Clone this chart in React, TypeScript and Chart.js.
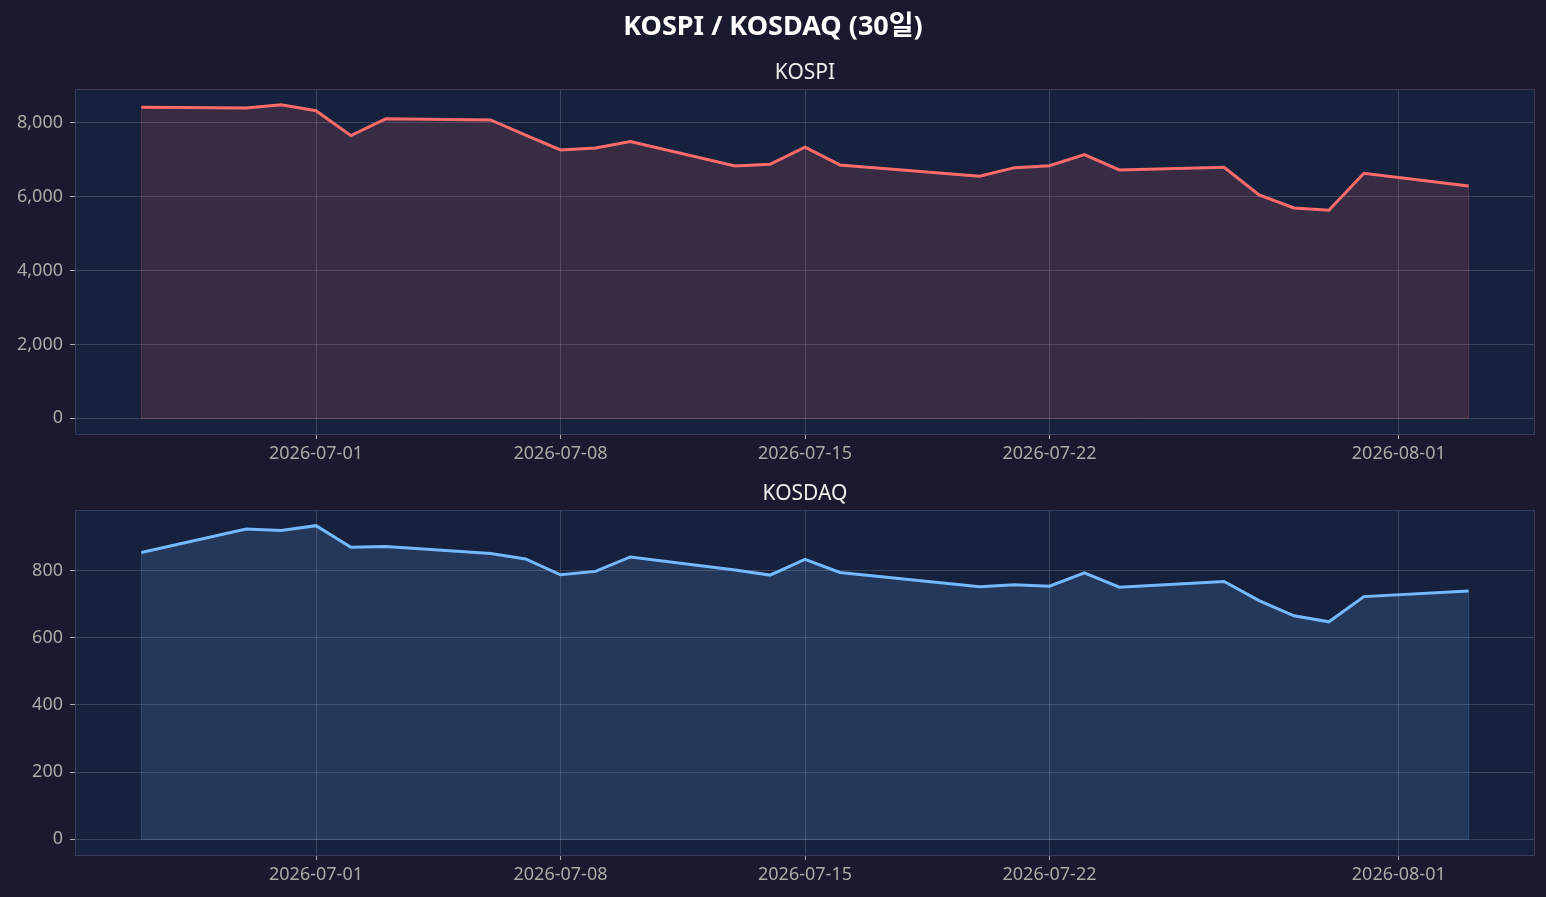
import React, { useEffect, useRef } from "react";
import { Chart, registerables } from "chart.js";

Chart.register(...registerables);

// ---------- data ----------
const dates = [
  "2026-06-26", "2026-06-29", "2026-06-30", "2026-07-01", "2026-07-02", "2026-07-03",
  "2026-07-06", "2026-07-07", "2026-07-08", "2026-07-09", "2026-07-10",
  "2026-07-13", "2026-07-14", "2026-07-15", "2026-07-16",
  "2026-07-20", "2026-07-21", "2026-07-22", "2026-07-23", "2026-07-24",
  "2026-07-27", "2026-07-28", "2026-07-29", "2026-07-30", "2026-07-31",
  "2026-08-03",
];
const kospi = [
  8414, 8397, 8486, 8324, 7649, 8108,
  8072, 7665, 7262, 7316, 7486,
  6830, 6874, 7334, 6855,
  6549, 6782, 6836, 7134, 6720,
  6793, 6043, 5691, 5629, 6631,
  6287,
];
const kosdaq = [
  853, 923, 919, 933, 869, 871,
  850, 834, 787, 797, 840,
  801, 786, 833, 794,
  751, 757, 753, 793, 750,
  767, 710, 665, 647, 722,
  739,
];
const xTickDates = ["2026-07-01", "2026-07-08", "2026-07-15", "2026-07-22", "2026-08-01"];
const kospiTicks = [0, 2000, 4000, 6000, 8000];
const kosdaqTicks = [0, 200, 400, 600, 800];

const mainTitle = "KOSPI / KOSDAQ (30일)";
const kospiTitle = "KOSPI";
const kosdaqTitle = "KOSDAQ";

// ---------- style ----------
const FIG_BG = "#1a1a2e";
const AX_BG = "#16213e";
const SPINE = "#3a3a5c";
const GRID = "rgba(255,255,255,0.16)";
const TICK_LABEL = "#aaaaaa";
const TICK_MARK = "#aaaaaa";
const FONT = "'Noto Sans', 'Noto Sans CJK KR', sans-serif";

const DAY = 86400000;
const dayNum = (s: string) => {
  const [y, m, d] = s.split("-").map(Number);
  return Date.UTC(y, m - 1, d) / DAY;
};
const fmtDay = (v: number) => {
  const dt = new Date(Math.round(v) * DAY);
  const y = dt.getUTCFullYear();
  const m = String(dt.getUTCMonth() + 1).padStart(2, "0");
  const d = String(dt.getUTCDate()).padStart(2, "0");
  return `${y}-${m}-${d}`;
};

const framePlugin = {
  id: "frame",
  beforeDraw(chart: any) {
    const { ctx, chartArea } = chart;
    const { left, top, right, bottom } = chartArea;
    ctx.save();
    ctx.fillStyle = AX_BG;
    ctx.fillRect(left, top, right - left, bottom - top);
    ctx.restore();
  },
  afterDatasetsDraw(chart: any) {
    // faint edge of the filled region (left, bottom, right)
    const ds = chart.data.datasets[0];
    const xs = chart.scales.x;
    const ys = chart.scales.y;
    const pts = ds.data as { x: number; y: number }[];
    const first = pts[0];
    const last = pts[pts.length - 1];
    const { ctx } = chart;
    ctx.save();
    ctx.strokeStyle = ds.edgeColor;
    ctx.lineWidth = 1;
    ctx.beginPath();
    ctx.moveTo(xs.getPixelForValue(first.x), ys.getPixelForValue(first.y));
    ctx.lineTo(xs.getPixelForValue(first.x), ys.getPixelForValue(0));
    ctx.lineTo(xs.getPixelForValue(last.x), ys.getPixelForValue(0));
    ctx.lineTo(xs.getPixelForValue(last.x), ys.getPixelForValue(last.y));
    ctx.stroke();
    ctx.restore();
  },
  afterDraw(chart: any) {
    const { ctx, chartArea } = chart;
    const { left, top, right, bottom } = chartArea;
    ctx.save();
    ctx.strokeStyle = SPINE;
    ctx.lineWidth = 1;
    ctx.strokeRect(Math.round(left) + 0.5, Math.round(top) + 0.5, Math.round(right - left) - 1, Math.round(bottom - top));
    ctx.restore();
  },
};

type PanelProps = {
  values: number[];
  ticks: number[];
  color: string;
  fill: string;
  edge: string;
  padTop: number;
  xAxisHeight: number;
  height: number;
};

function Panel({ values, ticks, color, fill, edge, padTop, xAxisHeight, height }: PanelProps) {
  const ref = useRef<HTMLCanvasElement | null>(null);
  useEffect(() => {
    if (!ref.current) return;
    const xVals = dates.map(dayNum);
    const xMinD = Math.min(...xVals);
    const xMaxD = Math.max(...xVals);
    const xm = (xMaxD - xMinD) * 0.05;
    const vMax = Math.max(...values);
    const ym = vMax * 0.05;
    const chart = new Chart(ref.current, {
      type: "line",
      data: {
        datasets: [
          {
            data: xVals.map((x, i) => ({ x, y: values[i] })),
            borderColor: color,
            backgroundColor: fill,
            borderWidth: 3,
            pointRadius: 0,
            tension: 0,
            fill: "origin",
            edgeColor: edge,
          } as any,
        ],
      },
      options: {
        animation: false,
        responsive: true,
        maintainAspectRatio: false,
        devicePixelRatio: 1,
        layout: { padding: { top: padTop, left: 0, right: 11, bottom: 0 } },
        plugins: {
          legend: { display: false },
          title: { display: false },
          tooltip: { enabled: false },
        },
        scales: {
          x: {
            type: "linear",
            min: xMinD - xm,
            max: xMaxD + xm,
            afterBuildTicks: (scale: any) => {
              scale.ticks = xTickDates.map((d) => ({ value: dayNum(d) }));
            },
            afterFit: (scale: any) => {
              scale.height = xAxisHeight;
            },
            ticks: {
              color: TICK_LABEL,
              font: { family: FONT, size: 18 },
              padding: 4,
              maxRotation: 0,
              autoSkip: false,
              callback: (v: any) => fmtDay(Number(v)),
            },
            grid: {
              color: GRID,
              lineWidth: 1,
              tickLength: 5,
              tickColor: TICK_MARK,
              drawOnChartArea: true,
            },
            border: { display: false },
          },
          y: {
            type: "linear",
            min: -ym,
            max: vMax + ym,
            afterBuildTicks: (scale: any) => {
              scale.ticks = ticks.map((v) => ({ value: v }));
            },
            afterFit: (scale: any) => {
              scale.width = 75;
            },
            ticks: {
              color: TICK_LABEL,
              font: { family: FONT, size: 18 },
              padding: 7,
              callback: (v: any) => Number(v).toLocaleString("en-US"),
            },
            grid: {
              color: GRID,
              lineWidth: 1,
              tickLength: 5,
              tickColor: TICK_MARK,
              drawOnChartArea: true,
            },
            border: { display: false },
          },
        },
      },
      plugins: [framePlugin],
    });
    return () => chart.destroy();
  }, []);
  return (
    <div style={{ position: "relative", width: 1546, height }}>
      <canvas ref={ref} />
    </div>
  );
}

export default function App() {
  useEffect(() => {
    document.body.style.margin = "0";
    document.body.style.background = FIG_BG;
  }, []);
  const titleStyle: React.CSSProperties = {
    position: "absolute",
    left: 75,
    width: 1460,
    textAlign: "center",
    fontFamily: FONT,
    color: "#eeeeee",
    fontSize: 21,
    lineHeight: "26px",
  };
  return (
    <div style={{ position: "relative", width: 1546, height: 897, background: FIG_BG, overflow: "hidden" }}>
      <div style={{ position: "absolute", top: 0, left: 0 }}>
        <Panel values={kospi} ticks={kospiTicks} color="#ff6b6b" fill="rgba(255,107,107,0.15)" edge="rgba(255,107,107,0.25)" padTop={89} xAxisHeight={41} height={475} />
      </div>
      <div style={{ position: "absolute", top: 475, left: 0 }}>
        <Panel values={kosdaq} ticks={kosdaqTicks} color="#74b9ff" fill="rgba(116,185,255,0.15)" edge="rgba(116,185,255,0.25)" padTop={35} xAxisHeight={42} height={422} />
      </div>
      <div
        style={{
          position: "absolute",
          top: 8,
          left: 0,
          width: 1546,
          textAlign: "center",
          fontFamily: FONT,
          fontWeight: 700,
          fontSize: 27,
          lineHeight: "34px",
          color: "#ffffff",
        }}
      >
        {mainTitle}
      </div>
      <div style={{ ...titleStyle, top: 58 }}>{kospiTitle}</div>
      <div style={{ ...titleStyle, top: 479 }}>{kosdaqTitle}</div>
    </div>
  );
}
